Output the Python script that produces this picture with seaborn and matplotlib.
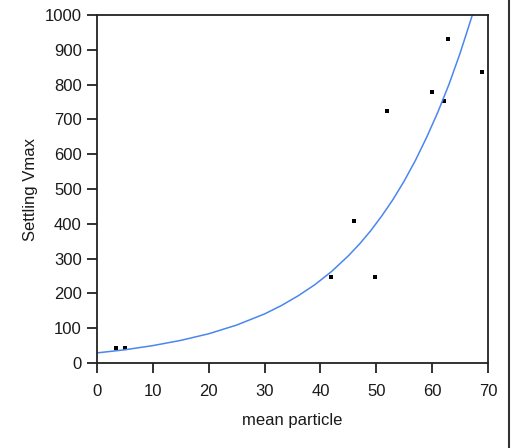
import numpy as np
import pandas as pd
import matplotlib.pyplot as plt
import seaborn as sns
from matplotlib.lines import Line2D

# ------- DATA -----------------------------------
particle = [3.4, 5.1, 41.9, 46.0, 49.8, 51.9, 60.0, 62.1, 62.9, 69.0]
vmax = [42, 42, 247, 408, 247, 725, 780, 752, 930, 835]

# fitted curve as drawn in the reference
fit_x = [0, 5, 10, 15, 20, 25, 30, 33, 36, 39, 42, 45, 47, 49, 51, 53, 55, 57,
         59, 61, 63, 65, 66, 67.2]
fit_y = [29, 38, 50, 65, 84, 109, 141, 165, 193, 225, 263, 308, 342, 380, 423,
         470, 523, 582, 648, 720, 800, 890, 940, 1000]

pts = pd.DataFrame({"mean particle": particle, "Settling Vmax": vmax})
fit = pd.DataFrame({"x": fit_x, "y": fit_y})

# ------- STYLE ---------
sns.set_style("ticks")
plt.rcParams['font.family'] = ['Liberation Sans', 'DejaVu Sans']
plt.rcParams['axes.linewidth'] = 1.3
plt.rcParams['axes.edgecolor'] = '#222222'

fig = plt.figure(figsize=(5.14, 4.48), dpi=100)
ax = fig.add_axes([97 / 514, 1 - 363 / 448, (488 - 97) / 514, (363 - 15) / 448])

# ------- PLOT ---------
sns.lineplot(data=fit, x="x", y="y", ax=ax, color="#4a86f0", linewidth=1.1)
sns.scatterplot(data=pts, x="mean particle", y="Settling Vmax", ax=ax,
                marker="s", s=9, color="black", edgecolor="black", linewidth=0)

ax.set_xlim(0, 70)
ax.set_ylim(0, 1000)
ax.set_xticks(range(0, 71, 10))
ax.set_yticks(range(0, 1001, 100))
ax.tick_params(axis="both", direction="out", length=7, width=1.3,
               labelsize=12, colors="#222222", labelcolor="#1a1a1a")
ax.tick_params(axis="x", pad=8)
ax.tick_params(axis="y", pad=4)
ax.set_xlabel("mean particle", fontsize=12, labelpad=10, color="#1a1a1a")
ax.set_ylabel("Settling Vmax", fontsize=12, labelpad=5, color="#1a1a1a")

for side in ["top", "right", "left", "bottom"]:
    ax.spines[side].set_visible(True)

# panel border on the right
fig.add_artist(Line2D([509 / 514, 509 / 514], [0, 1], transform=fig.transFigure,
                      color="#333333", linewidth=1.5))

plt.savefig("out.png", dpi=100)
